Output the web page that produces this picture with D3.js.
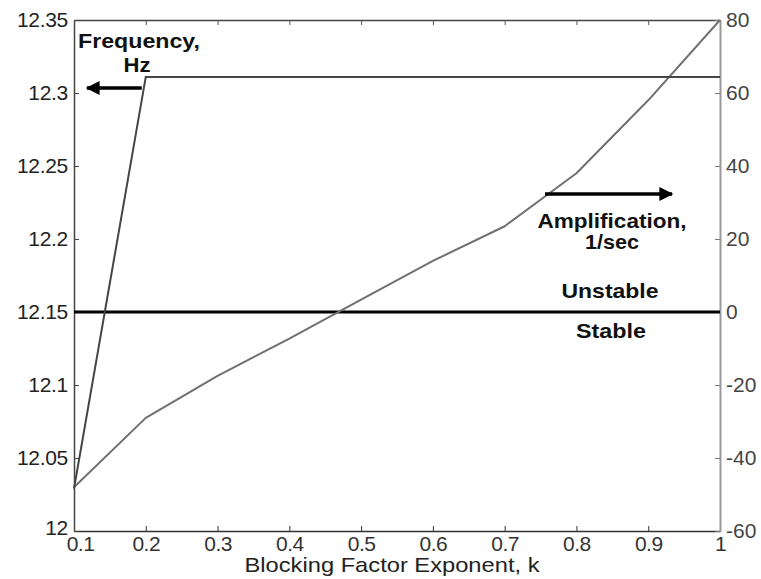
<!DOCTYPE html>
<html>
<head>
<meta charset="utf-8">
<script src="https://cdn.jsdelivr.net/npm/d3@7"></script>
<style>
  body { margin: 0; background: #fff; }
  svg { display: block; }
  text { font-family: "Liberation Sans", Arial, Helvetica, sans-serif; }
</style>
</head>
<body>
<svg id="chart" width="761" height="579"></svg>
<script>
// ---- data ----
const kValues = [0.1, 0.2, 0.3, 0.4, 0.5, 0.6, 0.7, 0.8, 0.9, 1.0];
const frequencyHz = [12.029, 12.311, 12.311, 12.311, 12.311, 12.311, 12.311, 12.311, 12.311, 12.311];
const amplification = [-48, -29, -17.5, -7.3, 3.4, 14, 23.5, 38, 58, 80];
const xTicks = [0.1, 0.2, 0.3, 0.4, 0.5, 0.6, 0.7, 0.8, 0.9, 1];
const xTickLabels = ["0.1", "0.2", "0.3", "0.4", "0.5", "0.6", "0.7", "0.8", "0.9", "1"];
const leftTicks = [12, 12.05, 12.1, 12.15, 12.2, 12.25, 12.3, 12.35];
const leftTickLabels = ["12", "12.05", "12.1", "12.15", "12.2", "12.25", "12.3", "12.35"];
const rightTicks = [-60, -40, -20, 0, 20, 40, 60, 80];
const rightTickLabels = ["-60", "-40", "-20", "0", "20", "40", "60", "80"];
const stabilityLevel = 0;

// ---- layout ----
const svg = d3.select("#chart");
const L = 74, R = 720, T = 20, B = 531;
const x = d3.scaleLinear().domain([0.1, 1]).range([L, R]);
const yL = d3.scaleLinear().domain([12, 12.35]).range([B, T]);
const yR = d3.scaleLinear().domain([-60, 80]).range([B, T]);

const tickFont = 21;

// bottom axis
const xAxis = d3.axisBottom(x).tickValues(xTicks)
  .tickFormat((d, i) => xTickLabels[i]).tickSizeInner(-5).tickSizeOuter(0).tickPadding(5);
const gx = svg.append("g").attr("transform", `translate(0,${B})`).call(xAxis);
gx.select(".domain").attr("stroke", "#333").attr("stroke-width", 1.5);
gx.selectAll(".tick line").attr("stroke", "#333");
gx.selectAll("text").attr("font-size", tickFont).attr("fill", "#333").attr("letter-spacing", -0.5)
  .attr("dx", (d, i) => i === 0 ? 6 : 0);

// top axis (ticks only)
const xTop = d3.axisTop(x).tickValues(xTicks).tickFormat("").tickSizeInner(-5).tickSizeOuter(0);
const gt = svg.append("g").attr("transform", `translate(0,${T})`).call(xTop);
gt.select(".domain").attr("stroke", "#444").attr("stroke-width", 1.5);
gt.selectAll(".tick line").attr("stroke", "#555");

// left axis
const yAxisL = d3.axisLeft(yL).tickValues(leftTicks)
  .tickFormat((d, i) => leftTickLabels[i]).tickSizeInner(-5).tickSizeOuter(0).tickPadding(6);
const gl = svg.append("g").attr("transform", `translate(${L},0)`).call(yAxisL);
gl.select(".domain").attr("stroke", "#444").attr("stroke-width", 1.5);
gl.selectAll(".tick line").attr("stroke", "#444");
gl.selectAll("text").attr("font-size", tickFont).attr("fill", "#222").attr("letter-spacing", -0.3)
  .attr("dy", (d, i) => i === 0 ? "0.15em" : "0.32em");

// right axis
const yAxisR = d3.axisRight(yR).tickValues(rightTicks)
  .tickFormat((d, i) => rightTickLabels[i]).tickSizeInner(-5).tickSizeOuter(0).tickPadding(6);
const gr = svg.append("g").attr("transform", `translate(${R},0)`).call(yAxisR);
gr.select(".domain").attr("stroke", "#999").attr("stroke-width", 2);
gr.selectAll(".tick line").attr("stroke", "#777");
gr.selectAll("text").attr("font-size", tickFont).attr("fill", "#444");

// stability line
svg.append("line")
  .attr("x1", L).attr("x2", R)
  .attr("y1", yR(stabilityLevel)).attr("y2", yR(stabilityLevel))
  .attr("stroke", "#000").attr("stroke-width", 3);

// amplification curve
const lineA = d3.line().x((d, i) => x(kValues[i])).y(d => yR(d));
svg.append("path").datum(amplification)
  .attr("d", lineA).attr("fill", "none").attr("stroke-linejoin", "round")
  .attr("stroke", "#707070").attr("stroke-width", 2);

// frequency curve
const lineF = d3.line().x((d, i) => x(kValues[i])).y(d => yL(d));
svg.append("path").datum(frequencyHz)
  .attr("d", lineF).attr("fill", "none")
  .attr("stroke", "#454545").attr("stroke-width", 2);

// arrows
const defs = svg.append("defs");
defs.append("marker").attr("id", "ah").attr("viewBox", "0 0 10 10")
  .attr("refX", 9).attr("refY", 5).attr("markerWidth", 7).attr("markerHeight", 4)
  .attr("markerUnits", "strokeWidth").attr("orient", "auto")
  .append("path").attr("d", "M0,0 L10,5 L0,10 Z").attr("fill", "#000");

svg.append("line").attr("x1", x(0.2) - 4).attr("x2", x(0.1) + 13)
  .attr("y1", 88).attr("y2", 88)
  .attr("stroke", "#000").attr("stroke-width", 3.5).attr("marker-end", "url(#ah)");
svg.append("line").attr("x1", 545).attr("x2", 672)
  .attr("y1", 194).attr("y2", 194)
  .attr("stroke", "#000").attr("stroke-width", 3.5).attr("marker-end", "url(#ah)");

// annotations
const ann = [
  { t: "Frequency,", x: 139, y: 48, w: 122 },
  { t: "Hz", x: 137, y: 72, w: 27 },
  { t: "Amplification,", x: 612, y: 228, w: 149 },
  { t: "1/sec", x: 612, y: 249, w: 54 },
  { t: "Unstable", x: 610, y: 298, w: 97 },
  { t: "Stable", x: 611, y: 338, w: 70 }
];
svg.selectAll("text.ann").data(ann).enter().append("text")
  .attr("class", "ann")
  .attr("x", d => d.x).attr("y", d => d.y)
  .attr("text-anchor", "middle").attr("font-size", 21).attr("font-weight", "bold")
  .attr("textLength", d => d.w).attr("lengthAdjust", "spacingAndGlyphs")
  .attr("fill", "#111").text(d => d.t);

// x axis title
svg.append("text").attr("x", 392).attr("y", 572).attr("text-anchor", "middle")
  .attr("font-size", 21).attr("fill", "#222")
  .attr("textLength", 295).attr("lengthAdjust", "spacingAndGlyphs")
  .text("Blocking Factor Exponent, k");
</script>
</body>
</html>
